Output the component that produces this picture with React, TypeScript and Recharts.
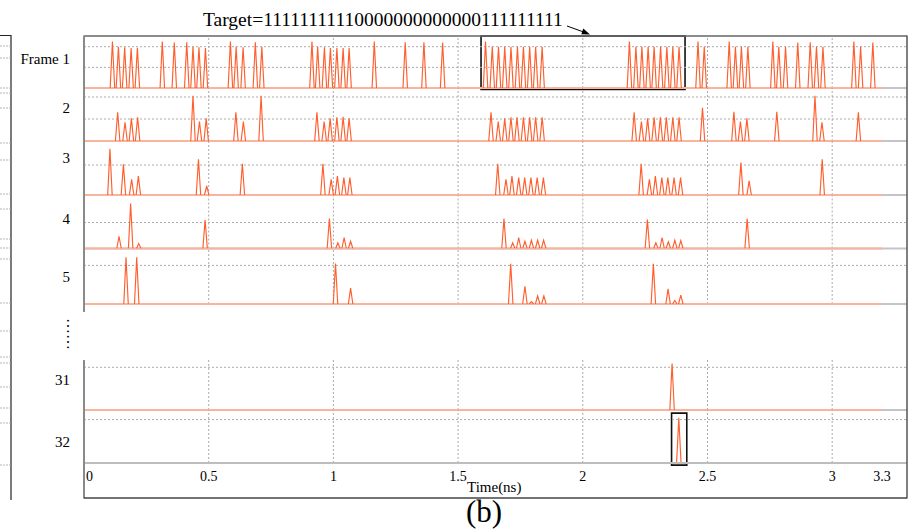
import React from 'react';
import { LineChart, Line, XAxis, YAxis, ReferenceLine, ReferenceArea } from 'recharts';

// ---------- data (time in ns, amplitude in a.u.) ----------
const frame1: [number, number][] = [
  [0.114, 2.25], [0.138, 2.0], [0.163, 1.97], [0.189, 1.93], [0.214, 1.95],
  [0.314, 2.25], [0.362, 2.2],
  [0.412, 2.22], [0.437, 2.0], [0.461, 1.97], [0.487, 1.93],
  [0.587, 2.25], [0.61, 2.0], [0.638, 1.97],
  [0.687, 2.22], [0.713, 2.0],
  [0.914, 2.25], [0.937, 2.0], [0.964, 1.97], [0.988, 1.93], [1.014, 1.93], [1.039, 1.93], [1.063, 1.93],
  [1.164, 2.25], [1.288, 2.22], [1.363, 2.22], [1.438, 2.2],
  [1.61, 2.25], [1.637, 2.0], [1.662, 2.0], [1.687, 2.0], [1.712, 2.0], [1.738, 2.0], [1.762, 2.0], [1.787, 2.0], [1.811, 2.0], [1.837, 2.0],
  [2.187, 2.25], [2.213, 2.0], [2.237, 2.0], [2.262, 2.0], [2.286, 2.0], [2.312, 2.0], [2.337, 2.0], [2.361, 2.0], [2.386, 2.0],
  [2.462, 2.25], [2.487, 2.0],
  [2.587, 2.25], [2.612, 2.0], [2.636, 2.0], [2.662, 2.0],
  [2.762, 2.25], [2.786, 2.0], [2.813, 2.0],
  [2.862, 2.2], [2.912, 2.22], [2.937, 2.0], [2.963, 2.0],
  [3.087, 2.25], [3.114, 2.0], [3.163, 2.2],
];

const frame2: [number, number][] = [
  [0.135, 1.3], [0.1645, 0.85], [0.19, 1.03], [0.215, 1.08],
  [0.437, 2.06], [0.463, 0.88], [0.49, 1.03],
  [0.609, 1.3], [0.639, 0.88],
  [0.71, 2.06],
  [0.934, 1.3], [0.963, 0.88], [0.987, 1.03], [1.014, 1.08], [1.039, 1.1], [1.063, 1.03],
  [1.632, 1.3], [1.661, 0.88], [1.687, 1.03], [1.712, 1.08], [1.736, 1.08], [1.762, 1.08], [1.787, 1.08], [1.811, 1.08], [1.837, 1.08],
  [2.206, 1.3], [2.235, 0.88], [2.26, 1.03], [2.286, 1.08], [2.311, 1.08], [2.335, 1.08], [2.361, 1.08], [2.386, 1.08],
  [2.48, 1.51],
  [2.606, 1.33], [2.632, 0.88], [2.658, 1.03],
  [2.778, 1.33],
  [2.931, 2.06], [2.959, 0.85],
  [3.105, 1.3],
];

const frame3: [number, number][] = [
  [0.104, 1.54], [0.158, 1.02], [0.191, 0.52], [0.218, 0.63],
  [0.459, 1.19], [0.492, 0.3],
  [0.635, 1.04],
  [0.958, 1.04], [0.991, 0.52], [1.016, 0.63], [1.042, 0.58], [1.066, 0.58],
  [1.659, 1.04], [1.692, 0.52], [1.716, 0.63], [1.743, 0.58], [1.767, 0.58], [1.792, 0.58], [1.817, 0.58], [1.842, 0.58],
  [2.234, 1.04], [2.267, 0.52], [2.291, 0.63], [2.317, 0.58], [2.341, 0.58], [2.366, 0.58], [2.392, 0.58],
  [2.634, 1.08], [2.667, 0.47],
  [2.96, 1.19],
];

const frame4: [number, number][] = [
  [0.1405, 0.47], [0.187, 1.73], [0.2195, 0.19],
  [0.4856, 1.09],
  [0.984, 1.15], [1.018, 0.22], [1.043, 0.42], [1.069, 0.28],
  [1.684, 1.15], [1.719, 0.22], [1.743, 0.42], [1.768, 0.28], [1.794, 0.32], [1.819, 0.32], [1.843, 0.32],
  [2.259, 1.11], [2.293, 0.22], [2.318, 0.42], [2.343, 0.26], [2.369, 0.32], [2.393, 0.3],
  [2.659, 1.15],
];

const frame5: [number, number][] = [
  [0.1685, 1.21], [0.2114, 1.21],
  [1.0085, 1.05], [1.069, 0.41],
  [1.711, 1.04], [1.768, 0.46], [1.794, 0.06], [1.819, 0.21], [1.844, 0.21],
  [2.283, 1.04], [2.342, 0.39], [2.369, 0.09], [2.393, 0.23],
];

const frame31: [number, number][] = [[2.358, 1.09]];
const frame32: [number, number][] = [[2.385, 1.04]];

const rowLabels = ['Frame 1', '2', '3', '4', '5', '31', '32'];
const gridTimes = [0.5, 1, 1.5, 2, 2.5, 3];
const tickValues = [0, 0.5, 1, 1.5, 2, 2.5, 3, 3.2];
const tickLabels = ['0', '0.5', '1', '1.5', '2', '2.5', '3', '3.3'];
const targetBits = '11111111110000000000000111111111';
const timeMax = 3.3;
const traceEnd = 3.2;

// ---------- styling / layout ----------
const FONT = "'Liberation Serif', 'Times New Roman', serif";
const W = 912;
const PLOT_L = 84;
const PLOT_R = 907;
const PAD = 3;
const HW = 0.009; // half width of a drawn pulse (ns)
const PULSE = '#FF5F2E';
const BASE = '#F9B4A0';
const GRID = '#ababab';

type Row = {
  pulses: [number, number][];
  label: string;
  top: number;
  base: number;
  unit: number;
  grid: number[];
  labelY: number;
  box?: { x1: number; x2: number; y1: number; y2: number };
  axis?: boolean;
};

const rows: Row[] = [
  { pulses: frame1, label: rowLabels[0], top: 36, base: 88, unit: 20.65, grid: [1, 2], labelY: 64,
    box: { x1: 1.592, x2: 2.41, y1: -0.07, y2: 2.52 } },
  { pulses: frame2, label: rowLabels[1], top: 88, base: 141, unit: 22, grid: [1, 2], labelY: 113 },
  { pulses: frame3, label: rowLabels[2], top: 141, base: 195, unit: 30, grid: [1], labelY: 163 },
  { pulses: frame4, label: rowLabels[3], top: 195, base: 248.5, unit: 26, grid: [1], labelY: 224 },
  { pulses: frame5, label: rowLabels[4], top: 248.5, base: 303.5, unit: 38.6, grid: [1], labelY: 281.5 },
  { pulses: frame31, label: rowLabels[5], top: 360, base: 410, unit: 42.7, grid: [1], labelY: 385 },
  { pulses: frame32, label: rowLabels[6], top: 410, base: 463, unit: 43.4, grid: [1], labelY: 446.5, axis: true,
    box: { x1: 2.356, x2: 2.417, y1: -0.05, y2: 1.15 } },
];

function pulseSeries(pulses: [number, number][]) {
  const pts: { t: number; v: number | null }[] = [];
  for (const [t, a] of pulses) {
    pts.push({ t: t - HW, v: 0 }, { t, v: a }, { t: t + HW, v: 0 }, { t: t + HW + 0.0005, v: null });
  }
  return pts;
}

const AxisTick = (props: any) => {
  const { x, y, payload } = props;
  const i = tickValues.indexOf(payload.value);
  const first = payload.value === 0;
  return (
    <text x={first ? x + 2 : x} y={y} dy="0.71em" textAnchor={first ? 'start' : 'middle'}
      fontFamily={FONT} fontSize={14} fill="#000">
      {i >= 0 ? tickLabels[i] : String(payload.value)}
    </text>
  );
};

const AXIS_H = 40;

function RowChart({ row }: { row: Row }) {
  const plotH = row.base - row.top;
  const yMax = plotH / row.unit;
  const height = plotH + PAD + (row.axis ? AXIS_H : PAD);
  return (
    <div style={{ position: 'absolute', left: 0, top: row.top - PAD }}>
      <LineChart width={W} height={height}
        margin={{ top: PAD, right: W - PLOT_R, bottom: row.axis ? 0 : PAD, left: PLOT_L }}>
        <XAxis type="number" dataKey="t" domain={[0, timeMax]} allowDataOverflow
          hide={!row.axis} ticks={tickValues} interval={0} tickLine={false}
          axisLine={{ stroke: '#bdbdbd', strokeWidth: 2 }} tick={<AxisTick />} height={AXIS_H} />
        <YAxis type="number" domain={[0, yMax]} allowDataOverflow hide />
        {gridTimes.map((g) => (
          <ReferenceLine key={'v' + g} x={g} stroke={GRID} strokeDasharray="2 2" strokeWidth={1} />
        ))}
        {row.grid.map((g) => (
          <ReferenceLine key={'h' + g} y={g} stroke={GRID} strokeDasharray="2 2" strokeWidth={1} />
        ))}
        <ReferenceLine y={0} stroke="#c4c4c4" strokeWidth={2} />
        <ReferenceLine segment={[{ x: 0, y: 0 }, { x: traceEnd, y: 0 }]} stroke={BASE} strokeWidth={2} />
        <Line data={pulseSeries(row.pulses)} dataKey="v" type="linear" stroke={PULSE} strokeWidth={1.15}
          dot={false} activeDot={false} connectNulls={false} isAnimationActive={false} />
        {row.box && (
          <ReferenceArea x1={row.box.x1} x2={row.box.x2} y1={row.box.y1} y2={row.box.y2}
            ifOverflow="visible" fill="none" fillOpacity={0} stroke="#111" strokeWidth={1.6} />
        )}
      </LineChart>
    </div>
  );
}

const panelALines = [46, 58, 88, 93, 108, 143, 160, 194, 209, 239, 248, 259, 303, 331, 357, 363, 387, 408, 423, 465];

export default function App() {
  return (
    <div style={{ position: 'absolute', left: 0, top: 0, width: W, height: 530, background: '#fff', overflow: 'hidden' }}>
      {rows.map((r, i) => (
        <RowChart key={i} row={r} />
      ))}
      <svg width={W} height={530} style={{ position: 'absolute', left: 0, top: 0, pointerEvents: 'none' }}>
        {/* frame */}
        <line x1={PLOT_L} y1={36} x2={PLOT_R} y2={36} stroke="#666" strokeWidth={1.5} />
        <line x1={PLOT_L} y1={35.5} x2={PLOT_L} y2={312} stroke="#8a8a8a" strokeWidth={2} />
        <line x1={PLOT_L} y1={360} x2={PLOT_L} y2={498.5} stroke="#8a8a8a" strokeWidth={2} />
        <line x1={PLOT_R} y1={35.5} x2={PLOT_R} y2={498.5} stroke="#555" strokeWidth={1.5} />
        <line x1={PLOT_L} y1={498} x2={PLOT_R} y2={498} stroke="#444" strokeWidth={1.5} />
        {/* remnant of neighbouring panel (a) */}
        <line x1={11} y1={35} x2={11} y2={500} stroke="#222" strokeWidth={1.2} />
        <line x1={0} y1={35.5} x2={11} y2={35.5} stroke="#222" strokeWidth={1} />
        {panelALines.map((y, i) => (
          <line key={i} x1={0} y1={y} x2={10.5} y2={y} stroke="#b5b5b5" strokeWidth={1} strokeDasharray="2 1" />
        ))}
        {/* title and arrow */}
        <text x={203} y={25.5} fontFamily={FONT} fontSize={19.5} fill="#000">
          {'Target=' + targetBits}
        </text>
        <line x1={567} y1={26} x2={585} y2={32.5} stroke="#000" strokeWidth={1} />
        <polygon points="590,34.5 581.3,34.2 583.3,28.6" fill="#000" />
        {/* row labels */}
        {rows.map((r, i) => (
          <text key={i} x={70} y={r.labelY} textAnchor="end" fontFamily={FONT} fontSize={15} fill="#000">
            {r.label}
          </text>
        ))}
        <text x={66.7} y={334} transform="rotate(90 66.7 334)" textAnchor="middle" fontFamily={FONT} fontSize={16} fill="#000">
          ……
        </text>
        <text x={467} y={492} fontFamily={FONT} fontSize={15} fill="#000">Time(ns)</text>
        <text x={484} y={522} textAnchor="middle" fontFamily={FONT} fontSize={31} fill="#000">(b)</text>
      </svg>
    </div>
  );
}
